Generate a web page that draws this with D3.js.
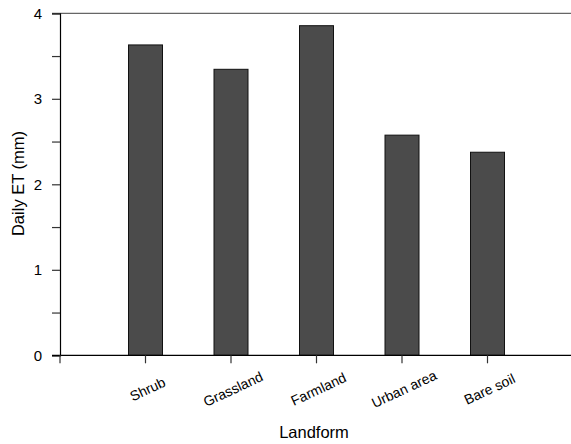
<!doctype html>
<html>
  <head>
    <script src="https://cdn.jsdelivr.net/npm/d3@7/dist/d3.min.js"></script>
    <style>
      body { margin: 0; background: #fff; }
      text { font-family: "Liberation Sans", Arial, sans-serif; fill: #000; }
    </style>
  </head>
  <body>
    <svg id="chart" width="571" height="444"></svg>
    <script>
      var categories = ["Shrub", "Grassland", "Farmland", "Urban area", "Bare soil"];
      var values = [3.63, 3.345, 3.855, 2.575, 2.375];
      var yTicks = [0, 1, 2, 3, 4];
      var yMinorTicks = [0.5, 1.5, 2.5, 3.5];

      var svg = d3.select("#chart");
      var plotLeft = 60, plotTop = 13.3, plotBottom = 355.3, plotRight = 571;

      // one empty slot before the first bar, slots are 85.5px wide
      var x = d3.scalePoint()
        .domain([""].concat(categories))
        .range([plotLeft, plotLeft + 5 * 85.5]);
      var y = d3.scaleLinear().domain([0, 4]).range([plotBottom, plotTop]);

      // frame top line
      svg.append("line")
        .attr("x1", 52).attr("x2", plotRight)
        .attr("y1", y(4)).attr("y2", y(4))
        .attr("stroke", "#666").attr("stroke-width", 1.2);

      svg.selectAll("rect.bar")
        .data(values)
        .enter()
        .append("rect")
          .attr("class", "bar")
          .attr("x", (d, i) => x(categories[i]) - 17)
          .attr("width", 34)
          .attr("y", d => y(d))
          .attr("height", d => y(0) - y(d))
          .attr("fill", "#4b4b4b")
          .attr("stroke", "#111")
          .attr("stroke-width", 1);

      // y axis
      var yAxis = svg.append("g")
        .attr("transform", "translate(" + plotLeft + ",0)")
        .call(d3.axisLeft(y).tickValues(yTicks).tickSize(8).tickPadding(10).tickFormat(d3.format("d")));
      yAxis.select(".domain").attr("stroke", "#000").attr("stroke-width", 1.2);
      yAxis.selectAll(".tick line").attr("stroke", "#333").attr("stroke-width", 1.2);
      yAxis.selectAll(".tick text")
        .style("font-size", "15px")
        .style("font-family", "Liberation Sans, Arial, sans-serif")
        .attr("fill", "#000");

      svg.append("g")
        .attr("transform", "translate(" + plotLeft + ",0)")
        .call(d3.axisLeft(y).tickValues(yMinorTicks).tickSize(8).tickFormat(""))
        .call(g => g.select(".domain").remove())
        .selectAll(".tick line").attr("stroke", "#333").attr("stroke-width", 1.2);

      // x axis
      svg.append("line")
        .attr("x1", 52).attr("x2", plotRight)
        .attr("y1", plotBottom).attr("y2", plotBottom)
        .attr("stroke", "#000").attr("stroke-width", 1.2);

      svg.selectAll("line.xtick")
        .data([""].concat(categories))
        .enter()
        .append("line")
          .attr("class", "xtick")
          .attr("x1", d => x(d)).attr("x2", d => x(d))
          .attr("y1", plotBottom).attr("y2", plotBottom + 8)
          .attr("stroke", "#333").attr("stroke-width", 1.2);

      svg.selectAll("text.xlab")
        .data(categories)
        .enter()
        .append("text")
          .attr("class", "xlab")
          .attr("transform", d => "translate(" + (x(d) + 2) + ",389) rotate(-25)")
          .attr("text-anchor", "middle")
          .attr("dominant-baseline", "central")
          .style("font-size", "14px")
          .text(d => d);

      svg.append("text")
        .attr("x", 314).attr("y", 438)
        .attr("text-anchor", "middle")
        .style("font-size", "16.5px")
        .text("Landform");

      svg.append("text")
        .attr("transform", "translate(24,183.5) rotate(-90)")
        .attr("text-anchor", "middle")
        .style("font-size", "16.5px")
        .text("Daily ET (mm)");
    </script>
  </body>
</html>
